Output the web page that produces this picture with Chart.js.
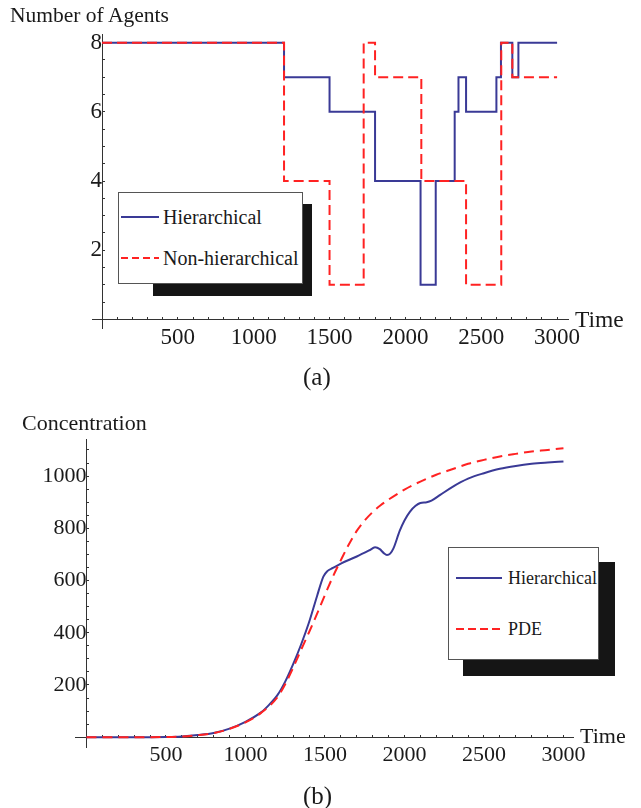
<!DOCTYPE html>
<html>
<head>
<meta charset="utf-8">
<script src="https://cdn.jsdelivr.net/npm/chart.js@4.4.1/dist/chart.umd.min.js"></script>
<style>
body{margin:0;background:#fff;width:641px;height:808px;position:relative;overflow:hidden;font-family:"Liberation Serif","Times New Roman",serif;color:#1a1a1a}
canvas{position:absolute;left:0}
.txt{position:absolute;white-space:nowrap;line-height:1}
.shadow{position:absolute;background:#151515}
.box{position:absolute;background:#fff;border:1px solid #555;box-sizing:border-box}
svg{position:absolute;overflow:visible}
</style>
</head>
<body>
<canvas id="agentsChart" width="641" height="400" style="top:0"></canvas>
<canvas id="concChart" width="641" height="408" style="top:400px"></canvas>

<div class="txt" style="left:10px;top:5px;font-size:21.5px">Number of Agents</div>
<div class="txt" style="left:575px;top:308px;font-size:23.5px">Time</div>
<div class="txt" style="left:303px;top:364px;font-size:25px">(a)</div>

<div class="shadow" style="left:153px;top:204px;width:159px;height:92px"></div>
<div class="box" style="left:118px;top:192px;width:185px;height:92px"></div>
<svg style="left:0;top:0" width="1" height="1">
  <line x1="121" y1="217" x2="159" y2="217" stroke="#3a3a96" stroke-width="2"/>
  <line x1="121" y1="258" x2="159" y2="258" stroke="#ff2222" stroke-width="2" stroke-dasharray="7,4"/>
</svg>
<div class="txt" style="left:163px;top:207px;font-size:20px">Hierarchical</div>
<div class="txt" style="left:163px;top:248px;font-size:20px">Non-hierarchical</div>

<div class="txt" style="left:22px;top:412px;font-size:22px">Concentration</div>
<div class="txt" style="left:580px;top:725px;font-size:22px">Time</div>
<div class="txt" style="left:303px;top:783px;font-size:25px">(b)</div>

<div class="shadow" style="left:463px;top:562px;width:152px;height:114px"></div>
<div class="box" style="left:448px;top:547px;width:151px;height:113px"></div>
<svg style="left:0;top:0" width="1" height="1">
  <line x1="456" y1="578" x2="502" y2="578" stroke="#3a3a96" stroke-width="2"/>
  <line x1="456" y1="629" x2="500" y2="629" stroke="#ff2222" stroke-width="2" stroke-dasharray="8,4"/>
</svg>
<div class="txt" style="left:508px;top:569px;font-size:18px">Hierarchical</div>
<div class="txt" style="left:508px;top:620px;font-size:18px">PDE</div>

<script>
// (a) number of agents, step changes
const hierTimes   = [0, 1200, 1500, 1800, 2100, 2200, 2325, 2350, 2400, 2600, 2630, 2705, 2745, 3000];
const hierAgents  = [8, 7, 6, 4, 1, 4, 6, 7, 6, 7, 8, 7, 8, 8];
const nonHierTimes  = [0, 1200, 1500, 1725, 1800, 2105, 2400, 2632, 2705, 3000];
const nonHierAgents = [8, 4, 1, 8, 7, 4, 1, 8, 7, 7];
const agentsXTicks = [100,200,300,400,500,600,700,800,900,1000,1100,1200,1300,1400,1500,1600,1700,1800,1900,2000,2100,2200,2300,2400,2500,2600,2700,2800,2900,3000];
const agentsXLabels = [500, 1000, 1500, 2000, 2500, 3000];
const agentsYTicks = [0.5,1,1.5,2,2.5,3,3.5,4,4.5,5,5.5,6,6.5,7,7.5,8];
const agentsYLabels = [2, 4, 6, 8];

// (b) concentration
const hierConcTimes = [0, 300, 500, 600, 700, 800, 900, 1000, 1100, 1150, 1200, 1250, 1300, 1350, 1400, 1450, 1490, 1515, 1550, 1600, 1700, 1780, 1815, 1845, 1870, 1890, 1910, 1930, 1970, 2000, 2035, 2070, 2100, 2140, 2170, 2225, 2300, 2400, 2500, 2600, 2700, 2800, 2900, 3000];
const hierConc      = [0, 0, 1, 3, 8, 16, 33, 59, 96, 125, 160, 213, 280, 355, 440, 540, 615, 636, 648, 665, 692, 716, 727, 720, 705, 698, 703, 722, 790, 830, 864, 886, 897, 900, 906, 928, 958, 990, 1011, 1028, 1039, 1047, 1052, 1056];
const pdeTimes = [0, 300, 500, 600, 700, 800, 900, 1000, 1100, 1200, 1250, 1300, 1350, 1400, 1450, 1500, 1550, 1600, 1650, 1700, 1750, 1800, 1850, 1900, 2000, 2100, 2200, 2300, 2400, 2500, 2600, 2700, 2800, 2900, 3000];
const pdeConc  = [0, 0, 1, 3, 8, 16, 32, 57, 94, 152, 203, 266, 335, 402, 472, 545, 615, 678, 738, 790, 830, 862, 888, 910, 948, 979, 1005, 1026, 1047, 1062, 1075, 1085, 1094, 1100, 1107];
const concXTicks = agentsXTicks;
const concXLabels = [500, 1000, 1500, 2000, 2500, 3000];
const concYTicks = [50,100,150,200,250,300,350,400,450,500,550,600,650,700,750,800,850,900,950,1000,1050,1100];
const concYLabels = [200, 400, 600, 800, 1000];

const BLUE = "#3a3a96";
const RED = "#ff2222";
const AXIS = "#333333";
const FONT = '"Liberation Serif","Times New Roman",serif';

function pts(xs, ys){ return xs.map(function(x, i){ return {x: x, y: ys[i]}; }); }

function axisOpts(min, max, tickVals, labelVals, fontSize, pad, cross){
  return {
    type: "linear", min: min, max: max, position: cross,
    afterBuildTicks: function(s){ s.ticks = tickVals.map(function(v){ return {value: v}; }); },
    ticks: {
      autoSkip: false, maxRotation: 0, padding: pad, color: "#1a1a1a",
      font: {family: FONT, size: fontSize},
      callback: function(v){ return labelVals.indexOf(v) >= 0 ? String(v) : ""; }
    },
    grid: {drawOnChartArea: false, drawTicks: true, tickLength: -3, tickColor: AXIS, color: AXIS},
    border: {display: true, color: AXIS, width: 1}
  };
}

const common = {
  responsive: false, animation: false, devicePixelRatio: 1, events: [],
  plugins: {legend: {display: false}, tooltip: {enabled: false}}
};

new Chart(document.getElementById("agentsChart"), {
  type: "line",
  data: {datasets: [
    {label: "Non-hierarchical", data: pts(nonHierTimes, nonHierAgents), stepped: true, borderColor: RED, borderWidth: 2, borderDash: [10, 5], pointRadius: 0, fill: false, order: 0},
    {label: "Hierarchical", data: pts(hierTimes, hierAgents), stepped: true, borderColor: BLUE, borderWidth: 2, pointRadius: 0, fill: false, order: 1}
  ]},
  options: Object.assign({}, common, {
    layout: {padding: {left: 92, right: 73, top: 34, bottom: 72}},
    scales: {
      x: axisOpts(-66, 3072, agentsXTicks, agentsXLabels, 23, 8, {y: 0}),
      y: axisOpts(-0.25, 8.25, agentsYTicks, agentsYLabels, 23, 7, {x: 0})
    }
  })
});

new Chart(document.getElementById("concChart"), {
  type: "line",
  data: {datasets: [
    {label: "PDE", data: pts(pdeTimes, pdeConc), borderColor: RED, borderWidth: 2, borderDash: [10, 6], pointRadius: 0, fill: false, cubicInterpolationMode: "monotone", order: 0},
    {label: "Hierarchical", data: pts(hierConcTimes, hierConc), borderColor: BLUE, borderWidth: 2, pointRadius: 0, fill: false, cubicInterpolationMode: "monotone", order: 1}
  ]},
  options: Object.assign({}, common, {
    layout: {padding: {left: 75, right: 68, top: 39, bottom: 61}},
    scales: {
      x: axisOpts(-72, 3060, concXTicks, concXLabels, 22, 8, {y: 0}),
      y: axisOpts(-37.5, 1142, concYTicks, concYLabels, 22, 7, {x: 0})
    }
  })
});
</script>
</body>
</html>
